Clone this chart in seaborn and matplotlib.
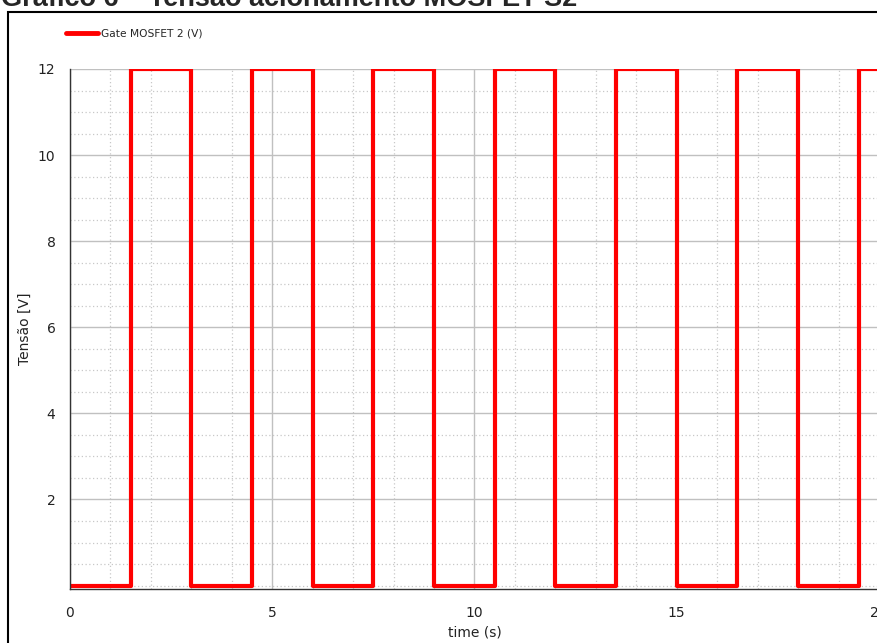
import matplotlib
matplotlib.use("Agg")
import matplotlib.pyplot as plt
import seaborn as sns
import pandas as pd
from matplotlib.ticker import MultipleLocator, FixedLocator
from matplotlib.patches import Rectangle

# Data: switching instants (s) and gate voltage levels (V)
time_s = [0.0, 1.5, 3.0, 4.5, 6.0, 7.5, 9.0, 10.5, 12.0, 13.5, 15.0, 16.5, 18.0, 19.5, 20.5]
gate_v = [0, 12, 0, 12, 0, 12, 0, 12, 0, 12, 0, 12, 0, 12, 12]
x_ticks = [0, 5, 10, 15, 20]
y_ticks = [2, 4, 6, 8, 10, 12]
series_name = "Gate MOSFET 2 (V)"
title = "Gráfico 6 – Tensão acionamento MOSFET S2"

df = pd.DataFrame({"time": time_s, "volt": gate_v, "serie": series_name})

sns.set_style("white")
plt.rcParams["font.family"] = ["DejaVu Sans"]

fig = plt.figure(figsize=(8.77, 6.43), dpi=100)
ax = fig.add_axes([70 / 877, 54 / 643, 809 / 877, 520 / 643])

sns.lineplot(data=df, x="time", y="volt", hue="serie", palette=["#ff0000"],
             drawstyle="steps-post", linewidth=3, ax=ax, legend=False)

ax.set_xlim(0, 20)
ax.set_ylim(-0.08, 12)
ax.xaxis.set_major_locator(FixedLocator(x_ticks))
ax.yaxis.set_major_locator(FixedLocator(y_ticks))
ax.xaxis.set_minor_locator(MultipleLocator(1))
ax.yaxis.set_minor_locator(MultipleLocator(0.5))
ax.grid(which="major", color="#c0c0c0", linewidth=1, linestyle="-")
ax.grid(which="minor", color="#c8c8c8", linewidth=0.9, linestyle=(0, (1, 2)))
ax.set_axisbelow(True)

for s in ["top", "right"]:
    ax.spines[s].set_visible(False)
for s in ["left", "bottom"]:
    ax.spines[s].set_color("#333333")
    ax.spines[s].set_linewidth(1)

ax.tick_params(which="major", direction="out", length=7, width=1, color="#333333",
               labelsize=10, labelcolor="#222222")
ax.tick_params(which="minor", direction="out", length=4, width=1, color="#333333")
ax.tick_params(axis="x", pad=5)

ax.set_xlabel("time (s)", fontsize=10, color="#222222", labelpad=4)
ax.set_ylabel("Tensão [V]", fontsize=10, color="#222222", labelpad=4)

# legend above the axes
handle = plt.Line2D([], [], color="#ff0000", linewidth=3.5)
fig.legend([handle], [series_name], loc="center left",
           bbox_to_anchor=(56 / 877, 1 - 34 / 643), frameon=False,
           fontsize=7.7, handlelength=3.0, handletextpad=0.3)

# outer frame
fig.patches.append(Rectangle((8 / 877, -0.1), 1.0, 1 - 12 / 643 + 0.1,
                             transform=fig.transFigure, fill=False,
                             edgecolor="black", linewidth=1.5))

fig.text(1 / 877, 1 - 6 / 643, title, fontsize=19.5, fontweight="bold",
         family="Liberation Sans", ha="left", va="baseline")

fig.savefig("out.png", dpi=100)
